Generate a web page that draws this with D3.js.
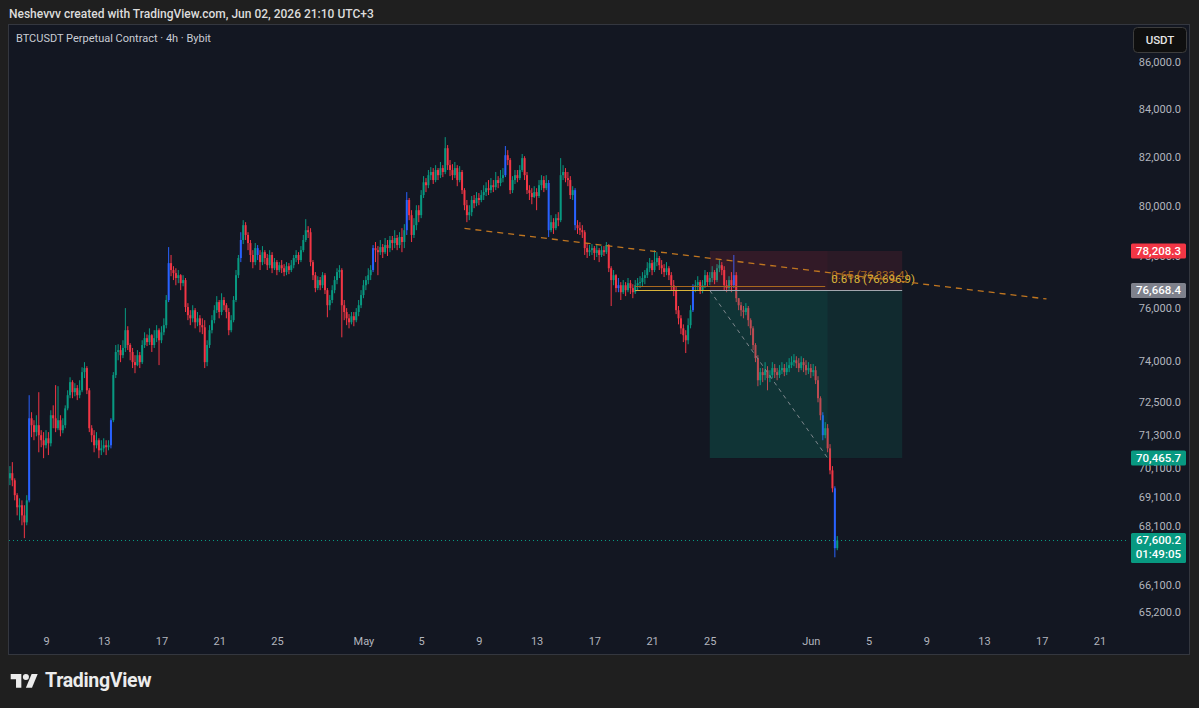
<!DOCTYPE html>
<html>
<head>
<meta charset="utf-8">
<script src="https://cdn.jsdelivr.net/npm/d3@7"></script>
<style>
  body { margin: 0; background: #1f1f1f; }
  svg text { font-family: Roboto, "Liberation Sans", sans-serif; }
</style>
</head>
<body>
<div id="chart"></div>
<script>
// BTCUSDT 4h candles, first bar Apr 6 12:00 UTC, open of each bar = previous close
const firstOpen = 69750
const closes = [
  69930, 69680, 69160, 68740, 68810, 68460, 68220, 68980, 71890, 71640,
  71390, 71640, 71280, 71100, 70920, 71170, 70990, 72000, 71890, 71530,
  71820, 71460, 71640, 72250, 72730, 73210, 72840, 72990, 72730, 72910,
  73580, 73730, 72910, 71530, 71280, 70920, 71100, 70740, 70810, 70920,
  70850, 70920, 71820, 73470, 74330, 74400, 74210, 74480, 75150, 74590,
  74330, 73950, 73840, 74210, 73950, 74590, 74850, 74700, 74960, 74590,
  74850, 75150, 74770, 75070, 75340, 76300, 77730, 77460, 77340, 77150,
  77260, 76950, 77070, 76030, 75720, 75600, 75910, 75450, 75600, 75340,
  75260, 73950, 74590, 75150, 75530, 75910, 76220, 75840, 76300, 76100,
  75840, 75150, 75530, 76300, 77260, 77930, 78640, 79230, 78840, 78520,
  78050, 77770, 78320, 78050, 77770, 78160, 77930, 77650, 78050, 77530,
  77770, 77460, 77650, 77530, 77380, 77610, 77460, 77650, 77930, 78050,
  77850, 78240, 78640, 79030, 78950, 77770, 77260, 76760, 77070, 76870,
  77260, 76680, 76100, 76300, 76680, 77070, 77380, 77460, 76100, 75840,
  75600, 75450, 75680, 75530, 75840, 76100, 76490, 76870, 77070, 77260,
  77460, 78320, 78240, 78160, 78360, 78160, 78440, 78320, 78640, 78520,
  78720, 78440, 78760, 78560, 79030, 80240, 79630, 78840, 79230, 79830,
  79630, 80440, 80960, 80840, 81250, 81380, 81050, 81460, 81250, 81540,
  81380, 82360, 81660, 81460, 81250, 81540, 81050, 81380, 80640, 80030,
  79630, 79750, 80240, 80110, 80320, 80240, 80440, 80560, 80720, 80640,
  80840, 80760, 81050, 80930, 81130, 81250, 82070, 81870, 80640, 81050,
  81250, 81130, 81460, 81950, 81250, 80640, 80520, 80360, 80560, 80400,
  80840, 81050, 80720, 80930, 79030, 79350, 79110, 79510, 79430, 81250,
  81380, 81130, 81050, 80440, 80640, 79230, 79110, 79030, 78950, 78320,
  78160, 78240, 78320, 78130, 78240, 78050, 78240, 78160, 78440, 77530,
  77070, 77260, 76760, 76870, 76600, 76870, 76680, 76950, 76760, 76600,
  76870, 76950, 76990, 77150, 77260, 77530, 77730, 77460, 77770, 77930,
  77650, 77530, 77380, 77530, 77260, 76870, 76680, 75910, 75600, 75220,
  74960, 74770, 75340, 75910, 76800, 76870, 76990, 76680, 76870, 77260,
  76990, 77150, 77380, 77070, 77530, 77650, 77460, 76870, 76760, 77070,
  76870, 77260, 76370, 76100, 75910, 75840, 75990, 75530, 75220, 74590,
  74100, 73280, 73580, 73470, 73650, 73360, 73470, 73730, 73580, 73470,
  73650, 73730, 73580, 73730, 73840, 73950, 74020, 73910, 73730, 73950,
  73840, 73650, 73730, 73580, 73650, 73280, 72620, 72000, 71280, 71530,
  70810, 70030, 69400, 67340, 67600.2
]
const highs = [
  70180, 70320, 69750, 69230, 69050, 68980, 68810, 69160, 72730, 72110,
  71820, 72000, 72840, 71460, 71390, 71460, 71390, 72180, 72360, 73100,
  73060, 72000, 71890, 72360, 72910, 73390, 73280, 73170, 73100, 73280,
  73760, 73950, 73800, 72990, 71640, 71460, 71390, 71170, 71100, 71170,
  71100, 71100, 71890, 73580, 74590, 74620, 74590, 74770, 75990, 75300,
  74660, 74480, 74210, 74400, 74330, 74770, 75070, 74990, 75220, 75000,
  75150, 75340, 75220, 75300, 75600, 76490, 78360, 78050, 77610, 77530,
  77460, 77300, 77260, 77150, 76180, 75910, 76100, 75990, 75840, 75720,
  75600, 75530, 74770, 75340, 75720, 76100, 76450, 76300, 76560, 76410,
  76180, 75990, 75720, 76450, 77460, 78050, 78950, 79430, 79350, 78950,
  78640, 78240, 78520, 78440, 78240, 78400, 78240, 78090, 78240, 78160,
  77930, 77850, 77770, 77850, 77690, 77770, 77730, 77850, 78050, 78240,
  78160, 78400, 78840, 79470, 79190, 79110, 77850, 77380, 77220, 77190,
  77380, 77340, 76760, 76490, 76870, 77220, 77530, 77650, 77530, 76300,
  75990, 75760, 75840, 75840, 75990, 76300, 76680, 77070, 77220, 77530,
  77650, 78440, 78560, 78400, 78640, 78480, 78720, 78640, 78800, 78800,
  79030, 78840, 78950, 79110, 79270, 80560, 80320, 79830, 79510, 80030,
  80030, 80640, 81210, 81130, 81460, 81580, 81540, 81660, 81540, 81790,
  81660, 82820, 82490, 81870, 81700, 81790, 81660, 81620, 81460, 80720,
  80240, 80030, 80400, 80440, 80560, 80520, 80640, 80840, 80960, 81050,
  81130, 81050, 81380, 81210, 81460, 81540, 82450, 82280, 81950, 81210,
  81460, 81460, 81660, 82120, 82030, 81380, 80840, 80720, 80800, 80720,
  81050, 81250, 81210, 81250, 81050, 79630, 79510, 79670, 79750, 81950,
  81660, 81540, 81380, 81210, 80800, 80720, 79430, 79350, 79230, 79030,
  78480, 78440, 78480, 78400, 78440, 78320, 78400, 78400, 78560, 78480,
  77610, 77460, 77300, 77150, 76990, 77070, 76990, 77150, 77070, 76910,
  77070, 77150, 77220, 77380, 77460, 77770, 77930, 77850, 78240, 78160,
  78010, 77850, 77690, 77770, 77610, 77380, 77070, 76830, 76070, 75720,
  75370, 75150, 75600, 76100, 76910, 77070, 77220, 77070, 77070, 77460,
  77380, 77380, 77610, 77460, 77690, 77850, 77770, 77610, 77070, 77220,
  77380, 78050, 77380, 76370, 76220, 76070, 76180, 76070, 75600, 75300,
  74660, 74210, 73730, 73730, 73950, 73800, 73650, 73950, 73880, 73730,
  73840, 73950, 73880, 73950, 74100, 74170, 74250, 74170, 74100, 74170,
  74100, 74020, 73950, 73880, 73880, 73800, 73430, 72690, 72110, 71750,
  71680, 70960, 70180, 69470, 67750
]
const lows = [
  69510, 69470, 68980, 68460, 68290, 68120, 67680, 68120, 68910, 71210,
  71100, 71240, 70670, 70850, 70460, 70810, 70570, 70880, 71530, 71390,
  71460, 71240, 71350, 71530, 72180, 72620, 72620, 72690, 72550, 72620,
  72840, 73360, 72770, 71390, 71030, 70670, 70810, 70460, 70570, 70670,
  70570, 70740, 70810, 71750, 73360, 74020, 73950, 74100, 74330, 74400,
  74020, 73730, 73540, 73800, 73730, 73880, 74480, 74550, 74590, 74330,
  74480, 74700, 73840, 74660, 74960, 75220, 76220, 77220, 77070, 76870,
  76950, 76680, 76830, 75840, 75530, 75340, 75450, 75220, 75300, 75070,
  75000, 73730, 73800, 74480, 75030, 75410, 75800, 75600, 75720, 75910,
  75600, 74960, 75070, 75450, 76220, 77150, 77770, 78480, 78640, 78240,
  77770, 77530, 77650, 77850, 77460, 77650, 77690, 77460, 77530, 77340,
  77460, 77260, 77380, 77340, 77220, 77260, 77300, 77380, 77530, 77770,
  77690, 77770, 78160, 78560, 78720, 77610, 77070, 76600, 76680, 76680,
  76760, 76530, 75640, 75910, 76180, 76560, 76910, 77150, 74880, 75530,
  75340, 75220, 75370, 75300, 75450, 75680, 75990, 76370, 76680, 76910,
  77070, 77380, 77770, 77260, 78050, 77930, 78090, 78010, 78160, 78240,
  78320, 78240, 78320, 78160, 78320, 78840, 79430, 78560, 78720, 79030,
  79350, 79510, 80320, 80560, 80720, 81050, 80890, 80960, 81050, 81130,
  81170, 81290, 81460, 81210, 81050, 81130, 80800, 80960, 80480, 79830,
  79350, 79430, 79590, 79910, 79990, 80030, 80150, 80240, 80400, 80440,
  80520, 80560, 80640, 80720, 80800, 80960, 81170, 81660, 80480, 80520,
  80890, 80960, 81050, 81380, 81050, 80480, 80240, 80070, 80320, 79830,
  80320, 80640, 80560, 80640, 78760, 78950, 78880, 79030, 79190, 79350,
  81050, 80960, 80800, 80280, 80240, 79030, 78880, 78840, 78720, 78050,
  77930, 78010, 78050, 77850, 77970, 77770, 77970, 78010, 78090, 77380,
  76070, 76870, 76600, 76600, 76300, 76530, 76450, 76600, 76530, 76370,
  76530, 76680, 76760, 76830, 76910, 77150, 77380, 77260, 77380, 77610,
  77460, 77300, 77190, 77260, 77070, 76680, 76450, 75760, 75370, 75000,
  74700, 74290, 74620, 75220, 75840, 76600, 76680, 76530, 76560, 76760,
  76830, 76870, 76990, 76910, 76990, 77380, 77260, 76680, 76600, 76680,
  76600, 76760, 76220, 75910, 75680, 75600, 75720, 75300, 74960, 74400,
  73950, 73060, 73100, 73210, 73280, 72910, 73210, 73360, 73360, 73280,
  73360, 73510, 73430, 73470, 73580, 73730, 73800, 73730, 73580, 73650,
  73580, 73470, 73510, 73360, 73430, 73140, 72470, 71820, 71100, 71170,
  70670, 69890, 69260, 67030, 67270
]
// bars painted blue by the chart's bar-colour indicator
const blueBars = [8, 42, 66, 96, 103, 151, 165, 206, 224, 235, 253, 284, 301, 338, 343]

const priceTicks = [86000, 84000, 82000, 80000, 78000, 76000, 74000, 72500, 71300, 70100, 69100, 68100, 66100, 65200]
const dateTicks = ['2026-04-09', '2026-04-13', '2026-04-17', '2026-04-21', '2026-04-25', '2026-05-01',
  '2026-05-05', '2026-05-09', '2026-05-13', '2026-05-17', '2026-05-21', '2026-05-25', '2026-06-01',
  '2026-06-05', '2026-06-09', '2026-06-13', '2026-06-17', '2026-06-21']

// drawings
const trendLine = [['2026-05-08T00:00Z', 79100], ['2026-06-17T08:00Z', 76340]]
const position = { start: '2026-05-25T00:00Z', end: '2026-06-07T08:00Z', hit: '2026-06-02T04:00Z',
  entry: 76668.4, stop: 78208.3, target: 70465.7 }
const fibLevels = [{ ratio: 0.65, price: 76833.4 }, { ratio: 0.618, price: 76696.9 }]
const fibSpan = ['2026-05-19T20:00Z', '2026-06-02T00:00Z']
const lastPrice = 67600.2
const countdown = '01:49:05'

const W = 1199, H = 708
const pane = { left: 9, right: 1128, top: 25, bottom: 654 }

const svg = d3.select('#chart').append('svg')
    .attr('width', W)
    .attr('height', H)
    .attr('viewBox', `0 0 ${W} ${H}`)

svg.append('rect').attr('width', W).attr('height', H).attr('fill', '#1f1f1f')

svg.append('text')
    .attr('x', 9).attr('y', 18)
    .attr('fill', '#dcdcdc')
    .attr('font-size', 12)
    .attr('font-weight', 500)
    .text('Neshevvv created with TradingView.com, Jun 02, 2026 21:10 UTC+3')

svg.append('rect')
    .attr('x', 8.5).attr('y', 24.5)
    .attr('width', 1181).attr('height', 630)
    .attr('fill', '#131722')
    .attr('stroke', '#34373f')

svg.append('text')
    .attr('x', 16).attr('y', 42)
    .attr('fill', '#c9ccd4')
    .attr('font-size', 11)
    .text('BTCUSDT Perpetual Contract · 4h · Bybit')

var x = d3.scaleUtc()
    .domain([new Date('2026-04-09T00:00Z'), new Date('2026-06-21T00:00Z')])
    .range([46, 1099.4])

var y = d3.scaleLog()
    .domain([86000, 65200])
    .range([62.3, 612.3])

var start = Date.UTC(2026, 3, 6, 12)
var candles = closes.map(function(c, i) {
    var o = i === 0 ? firstOpen : closes[i - 1]
    return {
        t: new Date(start + i * 4 * 3600 * 1000),
        o: o, c: c,
        h: Math.max(highs[i], o, c),
        l: Math.min(lows[i], o, c),
        blue: blueBars.includes(i)
    }
})

var defs = svg.append('defs')
defs.append('clipPath').attr('id', 'pane')
  .append('rect')
    .attr('x', pane.left).attr('y', pane.top)
    .attr('width', pane.right - pane.left)
    .attr('height', pane.bottom - pane.top)

var plot = svg.append('g').attr('clip-path', 'url(#pane)')

// last price dotted line
plot.append('line')
    .attr('x1', pane.left).attr('x2', pane.right)
    .attr('y1', Math.round(y(lastPrice)) + 0.5).attr('y2', Math.round(y(lastPrice)) + 0.5)
    .attr('stroke', '#089981')
    .attr('stroke-dasharray', '1,3')

function barColor(d) {
    if (d.blue) return '#2962ff'
    return d.c >= d.o ? '#089981' : '#f23645'
}

var bar = plot.append('g').attr('class', 'candles')
    .selectAll('g').data(candles)
  .enter().append('g')

bar.append('line')
    .attr('x1', function(d) { return x(d.t) }).attr('x2', function(d) { return x(d.t) })
    .attr('y1', function(d) { return y(d.h) }).attr('y2', function(d) { return y(d.l) })
    .attr('stroke', barColor)
    .attr('stroke-width', 1)

bar.append('rect')
    .attr('x', function(d) { return x(d.t) - 1 })
    .attr('width', 2)
    .attr('y', function(d) { return y(Math.max(d.o, d.c)) })
    .attr('height', function(d) { return Math.max(1, Math.abs(y(d.o) - y(d.c))) })
    .attr('fill', barColor)

// short position tool
var px0 = x(new Date(position.start)), px1 = x(new Date(position.end)), pxHit = x(new Date(position.hit))
var yEntry = y(position.entry), yStop = y(position.stop), yTarget = y(position.target)

plot.append('rect')
    .attr('x', px0).attr('y', yStop)
    .attr('width', px1 - px0).attr('height', yEntry - yStop)
    .attr('fill', 'rgba(242,54,69,0.11)')
plot.append('rect')
    .attr('x', px0).attr('y', yStop)
    .attr('width', pxHit - px0).attr('height', yEntry - yStop)
    .attr('fill', 'rgba(242,54,69,0.04)')
plot.append('rect')
    .attr('x', px0).attr('y', yEntry)
    .attr('width', px1 - px0).attr('height', yTarget - yEntry)
    .attr('fill', 'rgba(8,153,129,0.15)')
plot.append('rect')
    .attr('x', px0).attr('y', yEntry)
    .attr('width', pxHit - px0).attr('height', yTarget - yEntry)
    .attr('fill', 'rgba(8,153,129,0.09)')
plot.append('line')
    .attr('x1', px0).attr('y1', yEntry)
    .attr('x2', pxHit).attr('y2', yTarget)
    .attr('stroke', '#7d868c')
    .attr('stroke-dasharray', '4,4')

// fib levels
var fx0 = x(new Date(fibSpan[0])), fx1 = x(new Date(fibSpan[1]))
var fibColor = { 0.65: '#a8681f', 0.618: '#d9b53a' }
fibLevels.forEach(function(f) {
    plot.append('line')
        .attr('x1', fx0).attr('x2', fx1)
        .attr('y1', Math.round(y(f.price)) + 0.5).attr('y2', Math.round(y(f.price)) + 0.5)
        .attr('stroke', fibColor[f.ratio])
    plot.append('text')
        .attr('x', fx1 + 6).attr('y', y(f.price) - 7)
        .attr('fill', fibColor[f.ratio])
        .attr('font-size', 11.5)
        .text(f.ratio + ' (' + d3.format(',.1f')(f.price) + ')')
})

// entry line
plot.append('line')
    .attr('x1', px0).attr('x2', px1)
    .attr('y1', Math.round(yEntry) + 0.5).attr('y2', Math.round(yEntry) + 0.5)
    .attr('stroke', '#a3a6ae')

// descending trend line
plot.append('line')
    .attr('x1', x(new Date(trendLine[0][0]))).attr('y1', y(trendLine[0][1]))
    .attr('x2', x(new Date(trendLine[1][0]))).attr('y2', y(trendLine[1][1]))
    .attr('stroke', '#c07620')
    .attr('stroke-width', 1.3)
    .attr('stroke-dasharray', '6,5')

// time axis
var xAxis = d3.axisBottom(x)
    .tickValues(dateTicks.map(function(d) { return new Date(d + 'T00:00Z') }))
    .tickSize(0)
    .tickPadding(3)
    .tickFormat(function(d) { return d.getUTCDate() === 1 ? d3.utcFormat('%b')(d) : d.getUTCDate() })

var gx = svg.append('g')
    .attr('transform', 'translate(0,634)')
    .call(xAxis)
gx.select('.domain').remove()
gx.selectAll('text')
    .attr('fill', '#b2b5be')
    .attr('font-size', 11)
    .attr('font-family', 'Roboto, sans-serif')

// price axis
var yAxis = d3.axisRight(y)
    .tickValues(priceTicks)
    .tickSize(0)
    .tickPadding(0)
    .tickFormat(d3.format(',.1f'))

var gy = svg.append('g')
    .attr('transform', 'translate(1181,0)')
    .call(yAxis)
gy.select('.domain').remove()
gy.selectAll('text')
    .attr('text-anchor', 'end')
    .attr('fill', '#b2b5be')
    .attr('font-size', 11)
    .attr('font-family', 'Roboto, sans-serif')

function priceTag(value, bg, lines) {
    var h = 15 * lines.length
    var g = svg.append('g').attr('transform', 'translate(1131,' + (y(value) - 7.5) + ')')
    g.append('rect')
        .attr('width', 55).attr('height', h)
        .attr('rx', 1.5)
        .attr('fill', bg)
    lines.forEach(function(t, i) {
        g.append('text')
            .attr('x', 50).attr('y', 11.5 + i * 14)
            .attr('text-anchor', 'end')
            .attr('fill', '#ffffff')
            .attr('font-size', 11.5)
            .attr('font-weight', 500)
            .text(t)
    })
}
var fmt = d3.format(',.1f')
priceTag(position.stop, '#f23645', [fmt(position.stop)])
priceTag(position.entry, '#7e818c', [fmt(position.entry)])
priceTag(position.target, '#089981', [fmt(position.target)])
priceTag(lastPrice, '#089981', [fmt(lastPrice), countdown])

// currency button
svg.append('rect')
    .attr('x', 1133.5).attr('y', 27.5)
    .attr('width', 53).attr('height', 25)
    .attr('rx', 4)
    .attr('fill', '#0f0f0f')
    .attr('stroke', '#3d3d3d')
svg.append('text')
    .attr('x', 1160).attr('y', 44)
    .attr('text-anchor', 'middle')
    .attr('fill', '#e6e6e6')
    .attr('font-size', 11.5)
    .attr('font-weight', 500)
    .text('USDT')

// TradingView logo
var logo = svg.append('g')
    .attr('transform', 'translate(10.7,671) scale(0.76)')
    .attr('fill', '#ececec')
logo.append('path').attr('d', 'M14 22H7V11H0V4h14v18z')
logo.append('circle').attr('cx', 20).attr('cy', 8).attr('r', 4)
logo.append('path').attr('d', 'M28 22h-8l7.5-18h8L28 22z')

svg.append('text')
    .attr('x', 45).attr('y', 687)
    .attr('fill', '#ececec')
    .attr('font-size', 19.5)
    .attr('font-weight', 700)
    .attr('letter-spacing', -0.3)
    .text('TradingView')
</script>
</body>
</html>
